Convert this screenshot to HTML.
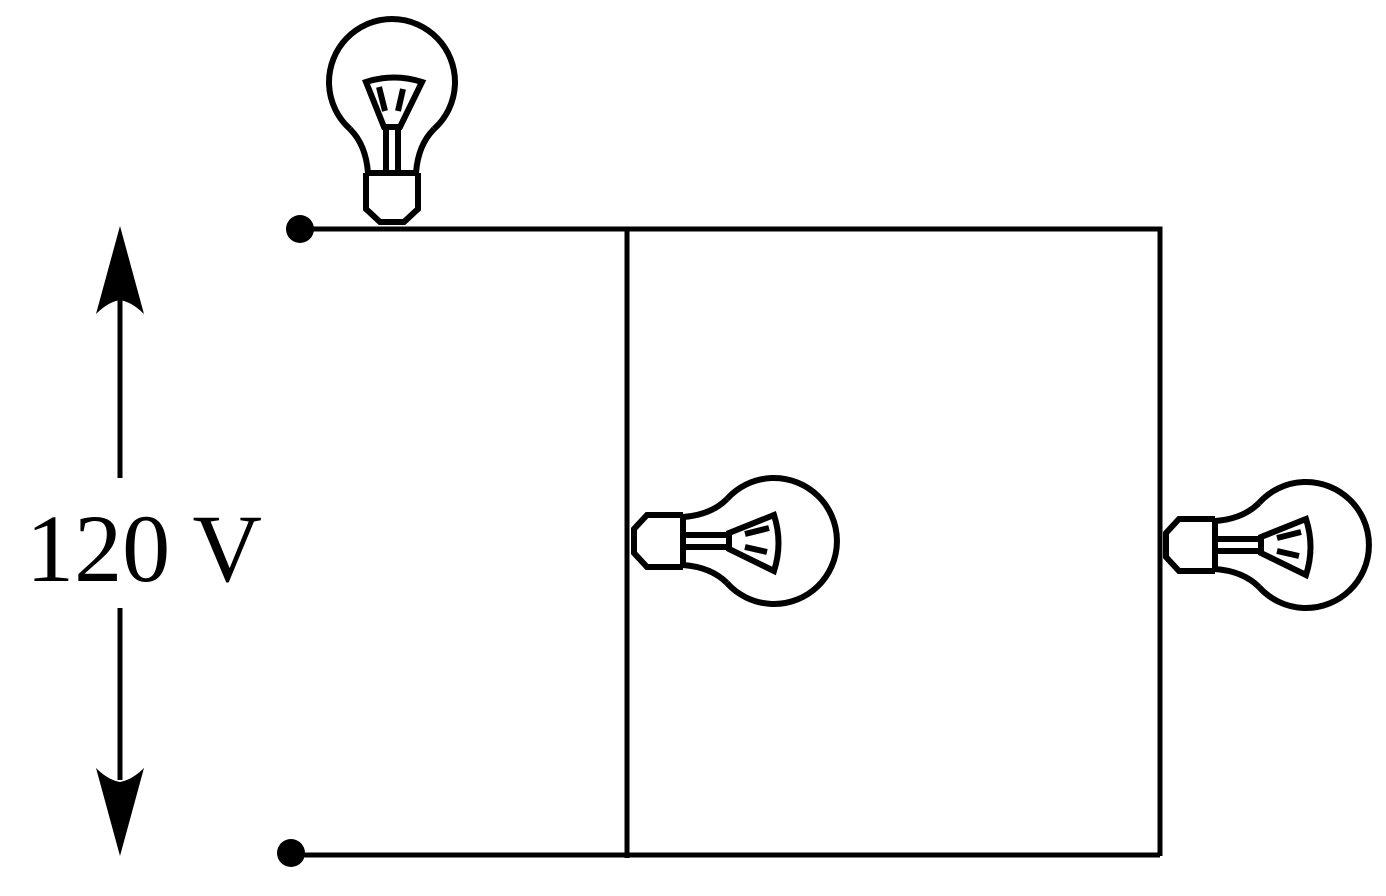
<!DOCTYPE html>
<html><head><style>body{margin:0;background:#fff}</style></head><body>
<svg width="1386" height="891" viewBox="0 0 1386 891" xmlns="http://www.w3.org/2000/svg">
<defs>
<g id="b" fill="none" stroke="#000" stroke-width="6" stroke-linejoin="miter">
<path d="M-42,-96 A63,63 0 1 1 42,-96"/>
<path d="M-42,-96 Q-26,-80 -24,-52 M42,-96 Q26,-80 24,-52"/>
<path d="M-26,-52 H26 M-26,-52 V-16 L-12,-3 H12 L26,-16 V-52"/>
<path d="M-26,-143 Q2,-152 30,-143 L8,-98 L-8,-98 Z"/>
<path d="M-6,-96 V-52 M6,-96 V-52"/>
<path d="M-13,-138 L-7,-114 M11,-136 L6,-114" stroke-width="6"/>
</g>
</defs>
<g stroke="#000" stroke-width="5" fill="none">
<path d="M300,229 H1160 V856 M291,855 H1160 M627,229 V858"/>
<path d="M120,300 V478 M120,608 V780"/>
</g>
<path d="M120,226 L144,314 Q132,302 120,300 Q108,302 96,314 Z" fill="#000"/>
<path d="M120,856 L144,768 Q132,780 120,782 Q108,780 96,768 Z" fill="#000"/>
<circle cx="300" cy="229" r="14" fill="#000"/>
<circle cx="291" cy="853" r="14" fill="#000"/>
<use href="#b" transform="translate(392,225)"/>
<use href="#b" transform="translate(631,541) rotate(90)"/>
<use href="#b" transform="translate(1163,545) rotate(90)"/>
<text x="26" y="581" font-family="Liberation Serif, serif" font-size="96" textLength="236" lengthAdjust="spacingAndGlyphs">120 V</text>
</svg>
</body></html>
